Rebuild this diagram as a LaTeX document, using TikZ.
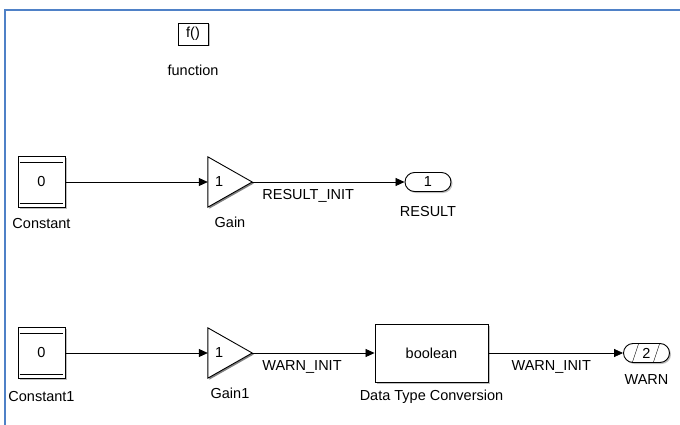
\documentclass[tikz,border=0pt]{standalone}
\usepackage{fontspec}
\setmainfont{Liberation Sans}
\usetikzlibrary{arrows.meta, positioning, shapes.misc, calc, shadows}
\definecolor{SLblue}{RGB}{79,129,199}

\begin{document}
\begin{tikzpicture}[x=1pt, y=-1pt,
    font=\fontsize{14.5}{16}\selectfont,
    blk/.style={rectangle, draw, fill=white, line width=0.9pt, inner sep=0pt,
                drop shadow={shadow xshift=1.5pt, shadow yshift=-1.5pt, opacity=0.5}},
    constblk/.style={blk, minimum width=47pt, minimum height=51pt},
    gainblk/.style={rectangle, minimum width=44pt, minimum height=50pt, inner sep=0pt},
    outport/.style={blk, rounded rectangle, minimum width=46pt, minimum height=19pt},
    lbl/.style={inner sep=0pt, text height=10pt, text depth=3pt},
    sig/.style={-{Triangle[length=9pt, width=8pt]}, line width=0.75pt}
  ]
  \useasboundingbox (0,0) rectangle (680,425);
  \draw[SLblue, line width=1.2pt] (680,10) -- (5,10) -- (5,425);

  % function block
  \node[blk, minimum width=30pt, minimum height=22pt] (fcn) at (193,34) {f()};
  \node[lbl, below=20pt of fcn] (fcnlbl) {function};

  % first row
  \node[constblk] (const) at (41.5,182) {0};
  \draw ($(const.north west)+(2,6)$) -- ($(const.north east)+(-2,6)$);
  \draw ($(const.south west)+(2,-5)$) -- ($(const.south east)+(-2,-5)$);
  \node[lbl, below=10pt of const] (constlbl) {Constant};

  \node[gainblk] (gain) at (230,182) {};
  \fill[black!50] ($(gain.north west)+(1.5,1.5)$) -- ($(gain.east)+(1.5,1.5)$)
    -- ($(gain.south west)+(1.5,1.5)$) -- cycle;
  \draw[fill=white, line width=0.9pt] (gain.north west) -- (gain.east) -- (gain.south west) -- cycle;
  \node[anchor=west, inner sep=0pt] (gainval) at ([xshift=7pt]gain.west) {1};
  \node[lbl, below=10pt of gain] (gainlbl) {Gain};

  \node[outport] (result) at (428,182) {1};
  \node[lbl, below=14pt of result] (resultlbl) {RESULT};

  \draw[sig] (const) -- (gain);
  \draw[sig] (gain.east) -- (result);
  \node[lbl, below right=7pt and 10pt of gain.east] (resinit) {RESULT\_INIT};

  % second row
  \node[constblk] (const1) at (41.5,353) {0};
  \draw ($(const1.north west)+(2,6)$) -- ($(const1.north east)+(-2,6)$);
  \draw ($(const1.south west)+(2,-5)$) -- ($(const1.south east)+(-2,-5)$);
  \node[lbl, below=12pt of const1] (const1lbl) {Constant1};

  \node[gainblk] (gain1) at (230,353) {};
  \fill[black!50] ($(gain1.north west)+(1.5,1.5)$) -- ($(gain1.east)+(1.5,1.5)$)
    -- ($(gain1.south west)+(1.5,1.5)$) -- cycle;
  \draw[fill=white, line width=0.9pt] (gain1.north west) -- (gain1.east) -- (gain1.south west) -- cycle;
  \node[anchor=west, inner sep=0pt] (gain1val) at ([xshift=7pt]gain1.west) {1};
  \node[lbl, below=10pt of gain1] (gain1lbl) {Gain1};

  \node[blk, minimum width=113pt, minimum height=58pt] (dtc) at (431.5,353) {boolean};
  \node[lbl, below=8pt of dtc] (dtclbl) {Data Type Conversion};

  \node[outport] (warn) at (646.5,353) {2};
  \draw ($(warn.center)+(-14,9)$) -- ($(warn.center)+(-8,-9)$);
  \draw ($(warn.center)+(7,9)$) -- ($(warn.center)+(13,-9)$);
  \node[lbl, below=11pt of warn] (warnlbl) {WARN};

  \draw[sig] (const1) -- (gain1);
  \draw[sig] (gain1.east) -- (dtc);
  \draw[sig] (dtc) -- (warn);
  \node[lbl, below right=7pt and 10pt of gain1.east] (warninit) {WARN\_INIT};
  \node[lbl, below right=7pt and 23pt of dtc.east] (warninit2) {WARN\_INIT};
\end{tikzpicture}
\end{document}
